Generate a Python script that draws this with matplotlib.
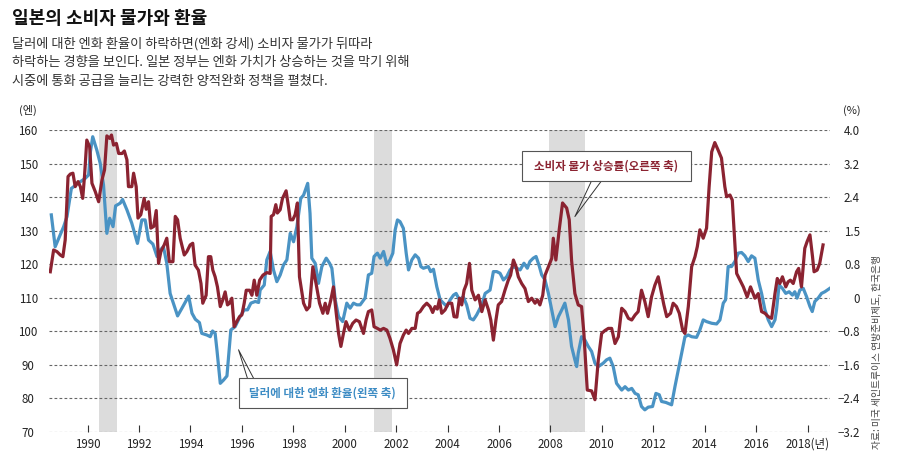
import matplotlib
matplotlib.use('Agg')
import matplotlib.pyplot as plt
from matplotlib.patches import Rectangle

plt.rcParams['font.family'] = ['Noto Sans CJK KR', 'DejaVu Sans']

# 달러/엔 환율 (왼쪽 축, 엔)
yen_year = [
    1988.59, 1988.74, 1989.07, 1989.20, 1989.37, 1989.46, 1989.59, 1989.72, 1989.91, 1990.04,
    1990.11, 1990.20, 1990.36, 1990.49, 1990.62, 1990.75, 1990.86, 1990.99, 1991.09, 1991.27,
    1991.36, 1991.53, 1991.72, 1991.94, 1992.11, 1992.24, 1992.37, 1992.54, 1992.70, 1992.83,
    1992.95, 1993.08, 1993.21, 1993.50, 1993.67, 1993.93, 1994.06, 1994.19, 1994.35, 1994.44,
    1994.64, 1994.77, 1994.86, 1994.96, 1995.03, 1995.16, 1995.29, 1995.42, 1995.57, 1995.74,
    1995.93, 1996.09, 1996.22, 1996.35, 1996.52, 1996.65, 1996.71, 1996.87, 1996.97, 1997.10,
    1997.23, 1997.36, 1997.49, 1997.62, 1997.75, 1997.88, 1998.01, 1998.14, 1998.29, 1998.40,
    1998.56, 1998.65, 1998.72, 1998.85, 1998.98, 1999.11, 1999.28, 1999.41, 1999.50, 1999.63,
    1999.76, 1999.92, 2000.08, 2000.21, 2000.34, 2000.47, 2000.60, 2000.79, 2000.92, 2001.05,
    2001.14, 2001.27, 2001.38, 2001.51, 2001.64, 2001.76, 2001.87, 2001.96, 2002.05, 2002.15,
    2002.28, 2002.39, 2002.48, 2002.61, 2002.74, 2002.87, 2002.96, 2003.06, 2003.25, 2003.34,
    2003.45, 2003.58, 2003.71, 2003.84, 2003.97, 2004.10, 2004.23, 2004.33, 2004.46, 2004.61,
    2004.74, 2004.87, 2005.00, 2005.13, 2005.33, 2005.46, 2005.65, 2005.78, 2005.91, 2006.04,
    2006.17, 2006.30, 2006.43, 2006.56, 2006.69, 2006.82, 2006.97, 2007.10, 2007.20, 2007.33,
    2007.44, 2007.57, 2007.66, 2007.79, 2007.92, 2008.05, 2008.18, 2008.31, 2008.44, 2008.56,
    2008.70, 2008.82, 2008.95, 2009.02, 2009.08, 2009.21, 2009.34, 2009.47, 2009.60, 2009.73,
    2009.86, 2010.05, 2010.18, 2010.31, 2010.44, 2010.57, 2010.77, 2010.90, 2011.03, 2011.16,
    2011.29, 2011.41, 2011.54, 2011.67, 2011.80, 2011.97, 2012.10, 2012.23, 2012.32, 2012.49,
    2012.62, 2012.71, 2012.84, 2012.97, 2013.10, 2013.23, 2013.36, 2013.49, 2013.68, 2013.81,
    2013.94, 2014.07, 2014.27, 2014.46, 2014.59, 2014.72, 2014.81, 2014.91, 2015.04, 2015.17,
    2015.30, 2015.43, 2015.56, 2015.69, 2015.82, 2015.95, 2016.08, 2016.21, 2016.34, 2016.47,
    2016.60, 2016.73, 2016.79, 2016.89, 2017.02, 2017.15, 2017.28, 2017.41, 2017.50, 2017.59,
    2017.70, 2017.83, 2017.96, 2018.09, 2018.18, 2018.28, 2018.41, 2018.54, 2018.67, 2018.86,
]
yen_rate = [
    134.7, 125.2, 131.2, 134.2, 142.6, 143.1, 144.1, 144.6, 145.6, 146.6,
    153.5, 158.0, 154.0, 150.1, 143.6, 129.2, 133.7, 131.2, 137.4, 138.2,
    139.3, 136.2, 132.2, 126.2, 133.2, 133.2, 127.2, 126.0, 122.3, 124.3,
    125.2, 120.3, 111.3, 104.6, 106.9, 110.5, 105.4, 103.6, 102.6, 99.4,
    98.9, 98.4, 100.1, 99.4, 94.5, 84.5, 85.5, 86.7, 100.4, 101.4,
    104.4, 106.4, 106.4, 108.4, 108.9, 108.6, 112.3, 113.8, 121.3, 123.8,
    118.3, 114.8, 116.8, 119.8, 121.3, 129.2, 126.7, 131.2, 139.6, 140.6,
    144.1, 135.2, 121.8, 120.3, 114.3, 119.3, 121.8, 120.3, 118.8, 109.4,
    104.4, 102.9, 108.4, 106.9, 108.4, 107.9, 107.9, 109.9, 116.8, 117.3,
    122.3, 123.3, 121.8, 123.8, 119.8, 121.3, 123.3, 130.2, 133.2, 132.7,
    130.7, 123.3, 118.3, 121.3, 122.8, 121.8, 119.3, 118.8, 119.3, 117.8,
    118.5, 113.3, 109.4, 108.4, 107.4, 109.4, 110.8, 111.3, 109.4, 110.3,
    107.9, 103.9, 103.4, 104.9, 107.9, 111.3, 112.3, 117.8, 117.8, 117.3,
    115.3, 116.3, 118.3, 119.3, 118.8, 118.3, 120.3, 118.8, 120.8, 121.8,
    122.3, 119.3, 116.8, 115.3, 111.3, 106.4, 101.4, 104.4, 106.4, 108.4,
    103.4, 95.5, 91.5, 89.5, 93.5, 98.4, 97.4, 95.5, 94.0, 90.5,
    89.5, 90.5, 91.5, 92.0, 89.5, 84.5, 82.5, 83.5, 82.5, 83.0,
    81.5, 81.1, 77.6, 76.6, 77.4, 77.6, 81.5, 81.1, 79.1, 78.8,
    78.4, 78.1, 83.5, 88.5, 93.5, 98.4, 98.9, 98.4, 98.2, 100.4,
    103.4, 102.9, 102.4, 102.2, 103.4, 108.4, 109.4, 119.3, 119.3, 120.8,
    123.3, 123.5, 122.5, 120.8, 122.5, 121.8, 115.3, 111.3, 106.4, 103.4,
    101.4, 103.4, 106.4, 113.8, 112.8, 111.3, 111.8, 110.8, 111.8, 109.9,
    112.3, 112.8, 110.3, 107.4, 105.9, 108.9, 109.9, 111.3, 111.8, 112.8,
]

# 소비자 물가 상승률 (오른쪽 축, %)
cpi_year = [
    1988.55, 1988.68, 1988.81, 1988.94, 1989.04, 1989.13, 1989.24, 1989.33, 1989.43, 1989.52,
    1989.63, 1989.72, 1989.81, 1989.88, 1989.97, 1990.08, 1990.17, 1990.30, 1990.43, 1990.56,
    1990.66, 1990.75, 1990.86, 1990.93, 1991.01, 1991.12, 1991.21, 1991.34, 1991.43, 1991.53,
    1991.59, 1991.72, 1991.79, 1991.89, 1991.96, 1992.07, 1992.20, 1992.28, 1992.37, 1992.46,
    1992.57, 1992.67, 1992.76, 1992.85, 1992.98, 1993.08, 1993.18, 1993.32, 1993.41, 1993.50,
    1993.60, 1993.76, 1993.86, 1993.99, 1994.09, 1994.18, 1994.31, 1994.41, 1994.48, 1994.61,
    1994.70, 1994.79, 1994.87, 1994.96, 1995.05, 1995.16, 1995.26, 1995.35, 1995.44, 1995.52,
    1995.61, 1995.70, 1995.80, 1995.91, 1996.00, 1996.09, 1996.17, 1996.30, 1996.39, 1996.48,
    1996.58, 1996.69, 1996.82, 1996.97, 1997.10, 1997.14, 1997.23, 1997.32, 1997.38, 1997.49,
    1997.58, 1997.72, 1997.81, 1997.88, 1997.98, 1998.07, 1998.16, 1998.24, 1998.40, 1998.52,
    1998.63, 1998.76, 1998.89, 1999.02, 1999.15, 1999.24, 1999.33, 1999.46, 1999.56, 1999.67,
    1999.76, 1999.85, 1999.95, 2000.05, 2000.18, 2000.31, 2000.44, 2000.57, 2000.73, 2000.83,
    2000.92, 2001.05, 2001.14, 2001.27, 2001.38, 2001.51, 2001.64, 2001.76, 2001.89, 2002.02,
    2002.15, 2002.28, 2002.39, 2002.48, 2002.61, 2002.74, 2002.83, 2002.93, 2003.06, 2003.19,
    2003.32, 2003.42, 2003.51, 2003.60, 2003.68, 2003.77, 2003.90, 2004.03, 2004.16, 2004.25,
    2004.36, 2004.46, 2004.55, 2004.64, 2004.74, 2004.85, 2004.94, 2005.07, 2005.20, 2005.33,
    2005.46, 2005.59, 2005.68, 2005.78, 2005.88, 2005.97, 2006.10, 2006.23, 2006.36, 2006.45,
    2006.56, 2006.66, 2006.75, 2006.88, 2007.01, 2007.14, 2007.27, 2007.40, 2007.49, 2007.59,
    2007.70, 2007.79, 2007.92, 2008.05, 2008.11, 2008.21, 2008.34, 2008.47, 2008.63, 2008.73,
    2008.82, 2008.95, 2009.08, 2009.21, 2009.30, 2009.43, 2009.60, 2009.73, 2009.86, 2009.99,
    2010.12, 2010.25, 2010.38, 2010.51, 2010.64, 2010.77, 2010.90, 2011.03, 2011.16, 2011.29,
    2011.41, 2011.54, 2011.67, 2011.80, 2011.93, 2012.06, 2012.19, 2012.32, 2012.41, 2012.52,
    2012.67, 2012.77, 2012.90, 2013.01, 2013.14, 2013.23, 2013.36, 2013.49, 2013.62, 2013.71,
    2013.81, 2013.94, 2014.07, 2014.17, 2014.27, 2014.39, 2014.52, 2014.65, 2014.78, 2014.85,
    2014.98, 2015.07, 2015.17, 2015.24, 2015.37, 2015.50, 2015.65, 2015.78, 2015.95, 2016.08,
    2016.21, 2016.34, 2016.47, 2016.60, 2016.73, 2016.82, 2016.92, 2017.02, 2017.15, 2017.24,
    2017.33, 2017.44, 2017.57, 2017.65, 2017.76, 2017.89, 2017.98, 2018.09, 2018.19, 2018.25,
    2018.37, 2018.47, 2018.60,
]
cpi_rate = [
    0.62, 1.14, 1.10, 1.02, 0.98, 1.38, 2.89, 2.95, 2.97, 2.65,
    2.77, 2.65, 2.37, 2.89, 3.76, 3.60, 2.73, 2.53, 2.29, 2.81,
    3.05, 3.86, 3.80, 3.88, 3.64, 3.68, 3.44, 3.44, 3.50, 3.29,
    2.65, 2.65, 2.97, 2.65, 1.90, 1.98, 2.37, 2.11, 2.29, 1.66,
    1.70, 2.08, 0.82, 1.10, 1.26, 1.42, 0.86, 0.86, 1.94, 1.86,
    1.42, 1.02, 1.10, 1.26, 1.30, 0.78, 0.66, 0.34, -0.13, 0.06,
    0.98, 0.98, 0.66, 0.50, 0.26, -0.21, -0.05, 0.14, -0.17, -0.13,
    -0.01, -0.69, -0.57, -0.45, -0.41, -0.13, 0.18, 0.18, 0.06, 0.42,
    0.06, 0.42, 0.54, 0.60, 0.58, 1.94, 1.98, 2.22, 2.02, 2.10,
    2.37, 2.55, 2.18, 1.86, 1.86, 1.98, 2.26, 0.50, -0.13, -0.29,
    -0.21, 0.74, 0.32, -0.13, -0.37, -0.13, -0.37, -0.05, 0.26, -0.37,
    -0.85, -1.16, -0.85, -0.57, -0.77, -0.61, -0.53, -0.57, -0.85, -0.53,
    -0.33, -0.29, -0.69, -0.73, -0.77, -0.73, -0.77, -0.97, -1.24, -1.60,
    -1.09, -0.89, -0.77, -0.85, -0.73, -0.73, -0.37, -0.33, -0.21, -0.13,
    -0.21, -0.35, -0.21, -0.27, -0.05, -0.37, -0.29, -0.13, -0.13, -0.45,
    -0.46, -0.01, -0.17, 0.18, 0.34, 0.82, 0.18, -0.05, 0.06, -0.33,
    -0.05, -0.29, -0.53, -1.01, -0.53, -0.17, -0.09, 0.18, 0.42, 0.54,
    0.90, 0.74, 0.50, 0.34, 0.22, -0.09, -0.01, -0.13, -0.05, -0.17,
    0.06, 0.54, 0.74, 0.94, 1.42, 0.90, 1.62, 2.26, 2.14, 1.86,
    0.90, 0.10, -0.17, -0.21, -0.85, -2.20, -2.22, -2.43, -1.48, -0.85,
    -0.78, -0.73, -0.73, -1.09, -0.93, -0.25, -0.33, -0.49, -0.53, -0.41,
    -0.33, 0.18, -0.09, -0.45, 0.02, 0.30, 0.50, 0.10, -0.17, -0.45,
    -0.37, -0.13, -0.21, -0.37, -0.77, -0.85, -0.21, 0.74, 0.98, 1.22,
    1.62, 1.42, 1.66, 2.65, 3.48, 3.70, 3.52, 3.33, 2.65, 2.41,
    2.45, 2.33, 1.30, 0.58, 0.42, 0.26, 0.02, 0.26, -0.01, 0.10,
    -0.33, -0.37, -0.45, -0.49, 0.10, 0.46, 0.34, 0.50, 0.26, 0.38,
    0.42, 0.34, 0.62, 0.70, 0.26, 1.18, 1.34, 1.50, 0.98, 0.62,
    0.66, 0.82, 1.26,
]

# 경기 침체기 (음영)
recession_start = [1990.43, 2001.14, 2007.96]
recession_end = [1991.14, 2001.83, 2009.35]

yen_ticks = [70, 80, 90, 100, 110, 120, 130, 140, 150, 160]
cpi_ticks = [-3.2, -2.4, -1.6, -0.8, 0, 0.8, 1.6, 2.4, 3.2, 4.0]
cpi_tick_labels = ['−3.2', '−2.4', '−1.6', '−0.8', '0', '0.8', '1.5', '2.4', '3.2', '4.0']
year_ticks = [1990, 1992, 1994, 1996, 1998, 2000, 2002, 2004, 2006, 2008, 2010, 2012, 2014, 2016, 2018]
year_tick_labels = ['1990', '1992', '1994', '1996', '1998', '2000', '2002', '2004', '2006',
                    '2008', '2010', '2012', '2014', '2016', '2018(년)']

title = '일본의 소비자 물가와 환율'
subtitle = [
    '달러에 대한 엔화 환율이 하락하면(엔화 강세) 소비자 물가가 뒤따라',
    '하락하는 경향을 보인다. 일본 정부는 엔화 가치가 상승하는 것을 막기 위해',
    '시중에 통화 공급을 늘리는 강력한 양적완화 정책을 펼쳤다.',
]
source = '자료: 미국 세인트루이스 연방준비제도, 한국은행'

RED = '#8b2331'
BLUE = '#4a93c4'
GRID = '#666666'

W, H = 899, 472
fig = plt.figure(figsize=(W / 100, H / 100), dpi=100)
ax = fig.add_axes([49 / W, 40 / H, 781 / W, 302 / H])

for a, b in zip(recession_start, recession_end):
    ax.axvspan(a, b, color='#dcdcdc', lw=0, zorder=0)
for v in yen_ticks:
    ax.axhline(v, color=GRID, lw=0.8, ls=(0, (2.5, 2)), zorder=1)

ax.plot(yen_year, yen_rate, color=BLUE, lw=2.3, zorder=3, solid_joinstyle='round')

ax2 = ax.twinx()
ax2.plot(cpi_year, cpi_rate, color=RED, lw=2.3, zorder=3, solid_joinstyle='round')

ax.set_xlim(1988.5, 2018.87)
ax.set_ylim(70, 160)
ax2.set_ylim(-3.2, 4.0)

for a in (ax, ax2):
    for s in a.spines.values():
        s.set_visible(False)

ax.set_yticks(yen_ticks)
ax.set_yticklabels([str(v) for v in yen_ticks])
ax.tick_params(axis='y', length=0, pad=15, labelsize=8.3, labelcolor='#222')
for lab in ax.get_yticklabels():
    lab.set_ha('center')

ax2.set_yticks(cpi_ticks)
ax2.set_yticklabels(cpi_tick_labels)
ax2.tick_params(axis='y', length=0, pad=21.6, labelsize=8.3, labelcolor='#222')
for lab in ax2.get_yticklabels():
    lab.set_ha('right')

ax.set_xticks(year_ticks)
ax.set_xticklabels(year_tick_labels)
ax.tick_params(axis='x', direction='in', length=5, width=0.8, color='#333',
               pad=4, labelsize=8.3, labelcolor='#222')


def note(text, color, box, apex, bases):
    # box = (왼쪽 연도, 오른쪽 연도, 아래 엔, 위 엔), 왼쪽 축 기준 좌표
    x0, x1, y0, y1 = box
    ax2.plot([bases[0], apex[0], bases[1]], [y0, apex[1], y0], color='#333',
             lw=0.7, transform=ax.transData, zorder=5)
    ax2.add_patch(Rectangle((x0, y0), x1 - x0, y1 - y0, transform=ax.transData,
                            fc='white', ec='#555', lw=0.8, zorder=6))
    ax2.text((x0 + x1) / 2, (y0 + y1) / 2, text, color=color, fontsize=8.3,
             fontweight='bold', ha='center', va='center',
             transform=ax.transData, zorder=7)


note('소비자 물가 상승률(오른쪽 축)', RED, (2006.88, 2013.46, 144.9, 153.8),
     (2008.95, 134.2), (2009.60, 2009.99))
note('달러에 대한 엔화 환율(왼쪽 축)', '#3d8cc4', (1995.87, 2002.41, 77.1, 86.1),
     (1995.87, 94.5), (1996.58, 1997.07))

ax2.set_ylim(-3.2, 4.0)

fig.text(12 / W, 1 - 18 / H, title, fontsize=13, fontweight='bold', va='center', color='#111')
for i, line in enumerate(subtitle):
    fig.text(12 / W, 1 - (43.5 + 19 * i) / H, line, fontsize=9.5, va='center', color='#333')
fig.text(28 / W, 1 - 110 / H, '(엔)', fontsize=8, ha='center', va='center', color='#222')
fig.text(861 / W, 1 - 111 / H, '(%)', fontsize=8, ha='right', va='center', color='#222')
fig.text(877 / W, 1 - 352 / H, source, fontsize=7, rotation=90, ha='center', va='center', color='#444')

fig.savefig('out.png', dpi=100)
